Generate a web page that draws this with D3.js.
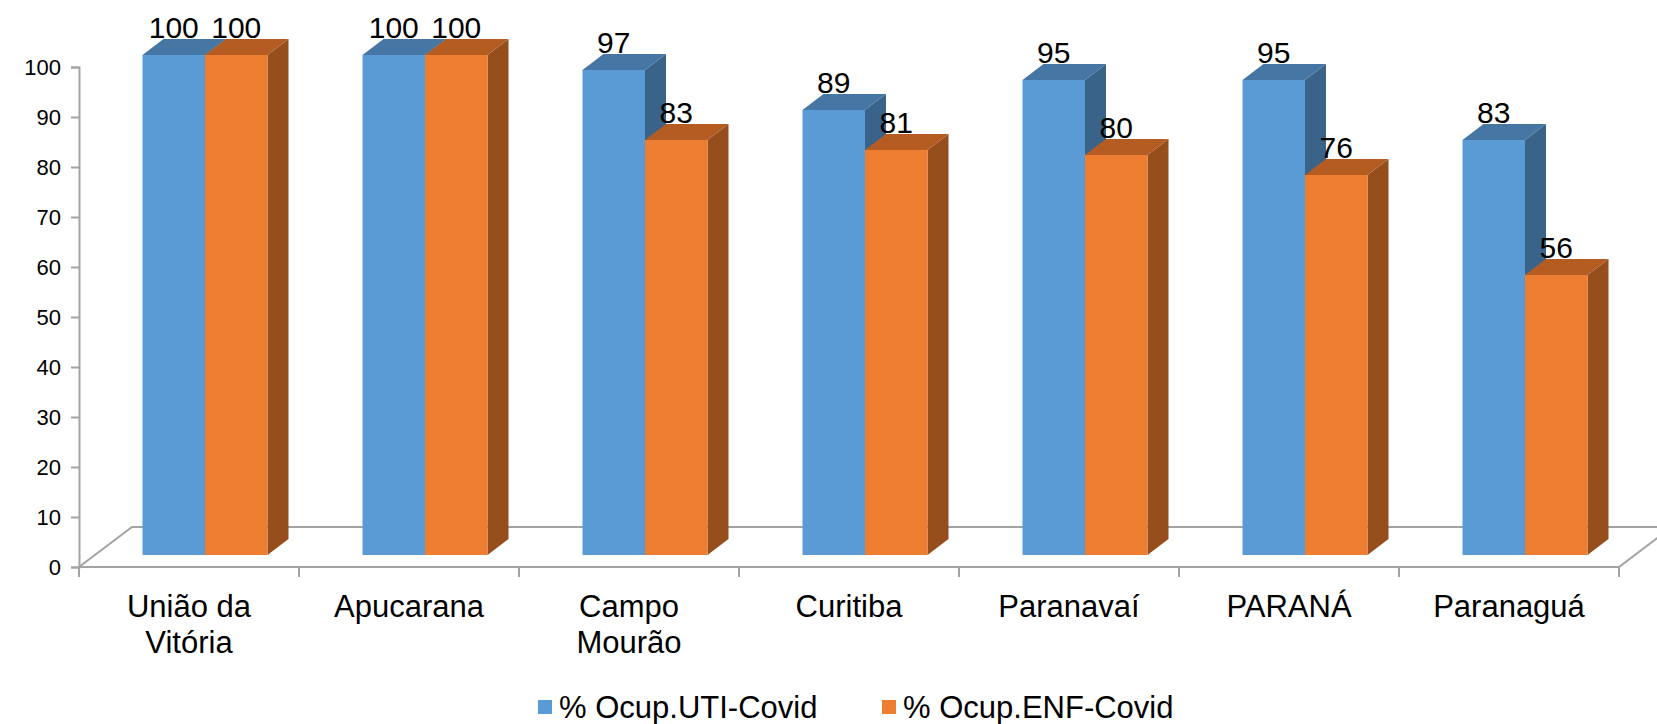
<!DOCTYPE html>
<html>
<head>
<meta charset="utf-8">
<script src="https://cdn.jsdelivr.net/npm/d3@7"></script>
<style>
  body { margin: 0; background: #fff; }
  svg { display: block; font-family: "Liberation Sans", Arial, sans-serif; }
</style>
</head>
<body>
<div id="chart"></div>
<script>
// Data
const categories = ["União da Vitória", "Apucarana", "Campo Mourão", "Curitiba", "Paranavaí", "PARANÁ", "Paranaguá"];
const categoryLines = [["União da", "Vitória"], ["Apucarana"], ["Campo", "Mourão"], ["Curitiba"], ["Paranavaí"], ["PARANÁ"], ["Paranaguá"]];
const series = ["% Ocup.UTI-Covid", "% Ocup.ENF-Covid"];
const utiValues = [100, 100, 97, 89, 95, 95, 83];
const enfValues = [100, 100, 83, 81, 80, 76, 56];
const yTicks = [0, 10, 20, 30, 40, 50, 60, 70, 80, 90, 100];

const colors = {
  front: ["#5B9BD5", "#ED7D31"],
  top: ["#4677A4", "#B55C22"],
  side: ["#3A6389", "#974E1D"]
};

const W = 1657, H = 724;
const plot = { left: 79, right: 1619, top: 67, bottom: 567 };
const floorDepth = { dx: 53, dy: -40 };
const barShift = { dx: 16, dy: -12 };
const barDepth = { dx: 21, dy: -16 };

const svg = d3.select("#chart").append("svg")
  .attr("width", W)
  .attr("height", H);

const x0 = d3.scaleBand().domain(categories).range([plot.left, plot.right]).padding(0);
const x1 = d3.scaleBand().domain(series).range([0, x0.bandwidth()]).paddingInner(0).paddingOuter(0.76);
const y = d3.scaleLinear().domain([0, 100]).range([plot.bottom, plot.top]);

const gray = "#A3A3A3";

// Floor
svg.append("path")
  .attr("d", `M${plot.left},${plot.bottom} L${plot.left + floorDepth.dx},${plot.bottom + floorDepth.dy}
              L${plot.right + floorDepth.dx},${plot.bottom + floorDepth.dy} L${plot.right},${plot.bottom} Z`)
  .attr("fill", "#fff")
  .attr("stroke", gray)
  .attr("stroke-width", 2);

// Y axis
const yAxis = svg.append("g")
  .attr("transform", `translate(${plot.left},0)`)
  .call(d3.axisLeft(y).tickValues(yTicks).tickSize(8).tickPadding(10));
yAxis.select(".domain").attr("stroke", gray).attr("stroke-width", 2);
yAxis.selectAll(".tick line").attr("stroke", gray).attr("stroke-width", 2);
yAxis.selectAll(".tick text")
  .attr("font-size", 22)
  .attr("font-family", "Liberation Sans, Arial, sans-serif")
  .attr("fill", "#000");

// X axis (tick marks at category boundaries)
const xAxis = svg.append("g")
  .attr("transform", `translate(0,${plot.bottom})`);
xAxis.append("line")
  .attr("x1", plot.left).attr("x2", plot.right)
  .attr("stroke", gray).attr("stroke-width", 2);
const boundaries = categories.map(c => x0(c)).concat([plot.right]);
xAxis.selectAll(".xtick").data(boundaries).enter().append("line")
  .attr("x1", d => d).attr("x2", d => d)
  .attr("y1", 0).attr("y2", 10)
  .attr("stroke", gray).attr("stroke-width", 2);

// Category labels
categories.forEach((c, i) => {
  const t = svg.append("text")
    .attr("text-anchor", "middle")
    .attr("font-size", 31)
    .attr("fill", "#000");
  categoryLines[i].forEach((line, j) => {
    t.append("tspan")
      .attr("x", x0(c) + x0.bandwidth() / 2)
      .attr("y", 617 + j * 36)
      .text(line);
  });
});

// Bars
const values = [utiValues, enfValues];
categories.forEach((c, i) => {
  series.forEach((s, k) => {
    const v = values[k][i];
    const xl = x0(c) + x1(s) + barShift.dx;
    const xr = xl + x1.bandwidth();
    const yb = y(0) + barShift.dy;
    const yt = y(v) + barShift.dy;
    const g = svg.append("g");
    // side
    g.append("path")
      .attr("d", `M${xr},${yt} L${xr + barDepth.dx},${yt + barDepth.dy} L${xr + barDepth.dx},${yb + barDepth.dy} L${xr},${yb} Z`)
      .attr("fill", colors.side[k]);
    // top
    g.append("path")
      .attr("d", `M${xl},${yt} L${xl + barDepth.dx},${yt + barDepth.dy} L${xr + barDepth.dx},${yt + barDepth.dy} L${xr},${yt} Z`)
      .attr("fill", colors.top[k]);
    // front
    g.append("rect")
      .attr("x", xl).attr("y", yt)
      .attr("width", x1.bandwidth()).attr("height", yb - yt)
      .attr("fill", colors.front[k]);
    // label
    svg.append("text")
      .attr("x", (xl + xr) / 2)
      .attr("y", yt + barDepth.dy - 1)
      .attr("text-anchor", "middle")
      .attr("font-size", 30)
      .attr("fill", "#000")
      .text(v);
  });
});

// Legend
const legendX = [538, 882];
series.forEach((s, k) => {
  svg.append("rect")
    .attr("x", legendX[k]).attr("y", 700)
    .attr("width", 14).attr("height", 14)
    .attr("fill", colors.front[k]);
  svg.append("text")
    .attr("x", legendX[k] + 21)
    .attr("y", 718)
    .attr("font-size", 31)
    .attr("fill", "#000")
    .text(s);
});
</script>
</body>
</html>
